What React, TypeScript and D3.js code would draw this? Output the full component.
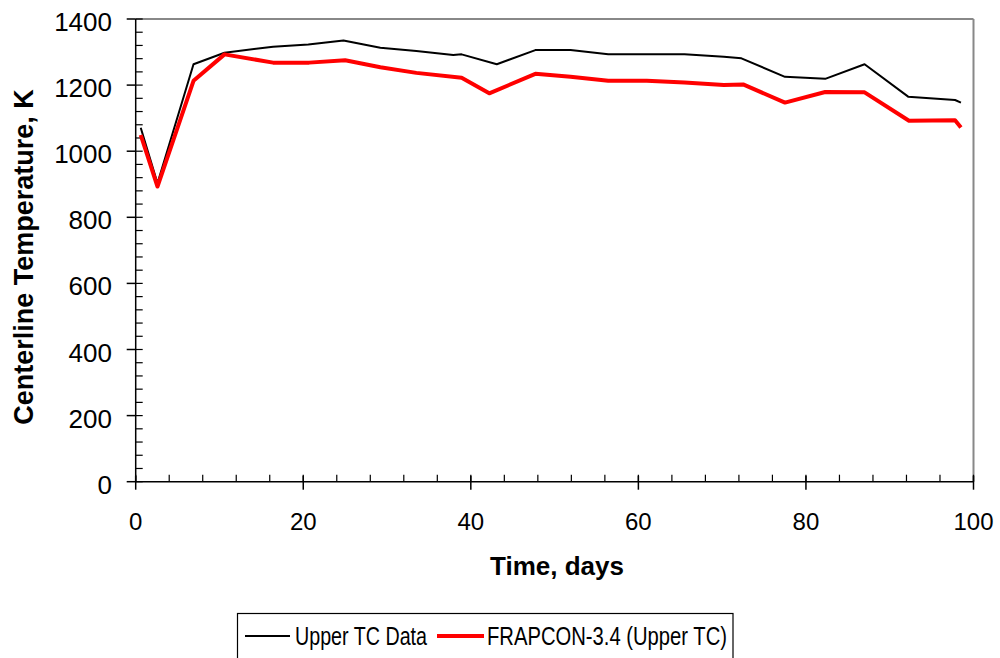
import React from "react";
import * as d3 from "d3";

const tcDays = [0.6, 2.6, 6.9, 10.6, 16.4, 20.6, 24.8, 29.2, 33.5, 37.9, 38.9, 43.1, 47.7, 51.9, 56.4, 61.0, 65.5, 70.2, 72.3, 77.5, 82.3, 87.0, 92.2, 97.8, 98.5];
const tcTemps = [1071, 903, 1263, 1298, 1316, 1323, 1335, 1313, 1303, 1291, 1293, 1263, 1306, 1306, 1293, 1293, 1293, 1286, 1281, 1225, 1219, 1263, 1165, 1155, 1147];

const frDays = [0.6, 2.6, 6.9, 10.6, 16.4, 20.7, 25.0, 29.2, 33.5, 38.9, 42.2, 47.7, 51.9, 56.4, 61.0, 65.5, 70.2, 72.5, 77.5, 82.3, 87.0, 92.3, 97.8, 98.5];
const frTemps = [1049, 893, 1213, 1293, 1268, 1268, 1275, 1254, 1237, 1222, 1175, 1234, 1225, 1213, 1213, 1208, 1200, 1202, 1147, 1179, 1178, 1092, 1094, 1072];

const xTicks = [0, 20, 40, 60, 80, 100];
const yTicks = [0, 200, 400, 600, 800, 1000, 1200, 1400];
const xMinor = d3.range(0, 101, 4);
const yMinor = d3.range(0, 1401, 40);

const seriesNames = ["Upper TC Data", "FRAPCON-3.4 (Upper TC)"];

export default function App() {
  const left = 135.7, right = 973.5, top = 19, bottom = 481.7;
  const x = d3.scaleLinear().domain([0, 100]).range([left, right]);
  const y = d3.scaleLinear().domain([0, 1400]).range([bottom, top]);
  const line = d3.line<[number, number]>().x(d => x(d[0])).y(d => y(d[1]));
  const tcPts = tcDays.map((d, i) => [d, tcTemps[i]] as [number, number]);
  const frPts = frDays.map((d, i) => [d, frTemps[i]] as [number, number]);
  const font = "'Liberation Sans', Arial, sans-serif";

  return (
    <svg width={1000} height={658} style={{ position: "absolute", left: 0, top: 0, background: "#fff" }} fontFamily={font}>
      {/* frame top/right */}
      <line x1={left} x2={right} y1={top} y2={top} stroke="#888" strokeWidth={2} />
      <line x1={right} x2={right} y1={top} y2={bottom} stroke="#888" strokeWidth={2} />
      {/* minor ticks */}
      {yMinor.map(v => (
        <line key={"ym" + v} x1={left} x2={left + 7} y1={y(v)} y2={y(v)} stroke="#000" strokeWidth={1.2} />
      ))}
      {xMinor.map(v => (
        <line key={"xm" + v} x1={x(v)} x2={x(v)} y1={bottom} y2={bottom - 7} stroke="#000" strokeWidth={1.2} />
      ))}
      {/* major ticks */}
      {yTicks.map(v => (
        <line key={"yt" + v} x1={left - 9} x2={left} y1={y(v)} y2={y(v)} stroke="#000" strokeWidth={1.5} />
      ))}
      {xTicks.map(v => (
        <line key={"xt" + v} x1={x(v)} x2={x(v)} y1={bottom - 6} y2={bottom + 8} stroke="#000" strokeWidth={1.5} />
      ))}
      {/* axes */}
      <line x1={left} x2={left} y1={top} y2={bottom} stroke="#000" strokeWidth={1.5} />
      <line x1={left} x2={right} y1={bottom} y2={bottom} stroke="#000" strokeWidth={1.5} />
      {/* tick labels */}
      {yTicks.map(v => (
        <text key={"yl" + v} x={112} y={y(v) + 3} textAnchor="end" dominantBaseline="central" fontSize={26} fill="#000">{v}</text>
      ))}
      {xTicks.map(v => (
        <text key={"xl" + v} x={x(v)} y={530} textAnchor="middle" fontSize={24} fill="#000">{v}</text>
      ))}
      {/* axis titles */}
      <text x={557} y={575} textAnchor="middle" fontSize={26} fontWeight="bold" fill="#000">Time, days</text>
      <text transform={`translate(33,257) rotate(-90)`} textAnchor="middle" fontSize={27} fontWeight="bold" fill="#000">Centerline Temperature, K</text>
      {/* lines */}
      <path d={line(tcPts) || ""} fill="none" stroke="#000" strokeWidth={2} strokeLinejoin="round" />
      <path d={line(frPts) || ""} fill="none" stroke="#ff0000" strokeWidth={4} strokeLinejoin="round" />
      {/* legend */}
      <rect x={237.5} y={613.5} width={495.5} height={60} fill="#fff" stroke="#000" strokeWidth={1.2} />
      <line x1={245} x2={290} y1={636} y2={636} stroke="#000" strokeWidth={2} />
      <text x={295} y={645} fontSize={26} fill="#000" textLength={132} lengthAdjust="spacingAndGlyphs">{seriesNames[0]}</text>
      <line x1={437} x2={484} y1={636} y2={636} stroke="#ff0000" strokeWidth={4} />
      <text x={487} y={645} fontSize={26} fill="#000" textLength={240} lengthAdjust="spacingAndGlyphs">{seriesNames[1]}</text>
    </svg>
  );
}
